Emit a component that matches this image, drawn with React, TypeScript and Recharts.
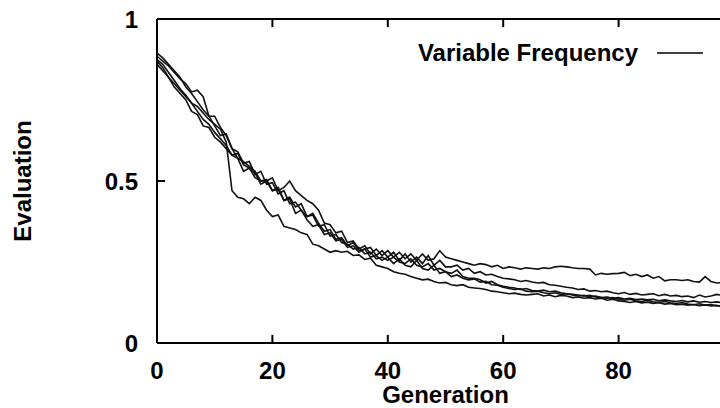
import { LineChart, Line, XAxis, YAxis, Legend, Label, ReferenceLine } from 'recharts'

// generation index 0..100
const generations = Array.from({ length: 101 }, (_, i) => i)

// five runs of the variable frequency GA
const run1 = [
  0.885, 0.87, 0.855, 0.835, 0.815, 0.8, 0.775, 0.78, 0.76, 0.7, 0.7, 0.665, 0.64, 0.6, 0.59, 0.555, 0.56, 0.52, 0.53, 0.49,
  0.495, 0.46, 0.47, 0.43, 0.435, 0.41, 0.39, 0.395, 0.36, 0.365, 0.33, 0.335, 0.31, 0.305, 0.29, 0.295, 0.275, 0.28, 0.26, 0.265,
  0.255, 0.265, 0.25, 0.245, 0.26, 0.24, 0.235, 0.245, 0.225, 0.23, 0.22, 0.215, 0.225, 0.205, 0.2, 0.2, 0.195, 0.185, 0.19, 0.18,
  0.175, 0.172, 0.17, 0.165, 0.168, 0.162, 0.16, 0.163, 0.158, 0.16, 0.155, 0.152, 0.15, 0.148, 0.145, 0.147, 0.142, 0.14, 0.138, 0.14,
  0.135, 0.132, 0.135, 0.13, 0.128, 0.132, 0.127, 0.125, 0.128, 0.124, 0.122, 0.125, 0.12, 0.118, 0.121, 0.117, 0.119, 0.115, 0.114, 0.116,
  0.113,
]
const run2 = [
  0.87, 0.85, 0.82, 0.8, 0.78, 0.76, 0.74, 0.73, 0.71, 0.69, 0.675, 0.66, 0.62, 0.47, 0.45, 0.445, 0.43, 0.45, 0.44, 0.41,
  0.39, 0.395, 0.36, 0.355, 0.35, 0.34, 0.335, 0.305, 0.3, 0.29, 0.28, 0.285, 0.28, 0.283, 0.27, 0.272, 0.258, 0.262, 0.24, 0.235,
  0.23, 0.22, 0.215, 0.212, 0.205, 0.2, 0.195, 0.197, 0.19, 0.185, 0.187, 0.18, 0.177, 0.18, 0.172, 0.17, 0.168, 0.165, 0.16, 0.158,
  0.155, 0.152, 0.154, 0.15, 0.148, 0.15, 0.152, 0.145, 0.148, 0.143, 0.147, 0.145, 0.14, 0.142, 0.138, 0.14, 0.136, 0.138, 0.132, 0.135,
  0.13, 0.128, 0.125, 0.128, 0.124, 0.126, 0.122, 0.124, 0.12, 0.122, 0.118, 0.12, 0.117, 0.119, 0.115, 0.118, 0.114, 0.116, 0.113, 0.115,
  0.112,
]
const run3 = [
  0.895, 0.88, 0.86, 0.84, 0.82, 0.79, 0.77, 0.745, 0.72, 0.7, 0.67, 0.64, 0.645, 0.6, 0.57, 0.53, 0.54, 0.51, 0.5, 0.5,
  0.51, 0.47, 0.48, 0.5, 0.47, 0.455, 0.44, 0.43, 0.41, 0.37, 0.365, 0.34, 0.345, 0.31, 0.315, 0.29, 0.3, 0.275, 0.29, 0.27,
  0.285, 0.265, 0.28, 0.26, 0.275, 0.255, 0.275, 0.255, 0.26, 0.285, 0.265, 0.26, 0.255, 0.25, 0.245, 0.24, 0.245, 0.242, 0.235, 0.24,
  0.23, 0.235, 0.232, 0.228, 0.232, 0.23, 0.228, 0.232, 0.23, 0.235, 0.237, 0.235, 0.232, 0.23, 0.23, 0.228, 0.21, 0.215, 0.212, 0.214,
  0.215, 0.218, 0.208, 0.212, 0.205, 0.21, 0.2, 0.205, 0.192, 0.195, 0.195, 0.193, 0.195, 0.19, 0.188, 0.205, 0.19, 0.185, 0.187, 0.19,
  0.188,
]
const run4 = [
  0.86, 0.84, 0.82, 0.79, 0.77, 0.75, 0.715, 0.705, 0.67, 0.665, 0.635, 0.62, 0.6, 0.58, 0.585, 0.55, 0.54, 0.525, 0.49, 0.5,
  0.47, 0.475, 0.44, 0.45, 0.42, 0.43, 0.39, 0.4, 0.37, 0.345, 0.35, 0.32, 0.325, 0.3, 0.31, 0.285, 0.29, 0.295, 0.27, 0.285,
  0.265, 0.28, 0.255, 0.275, 0.25, 0.265, 0.245, 0.27, 0.24, 0.255, 0.235, 0.235, 0.24, 0.225, 0.23, 0.215, 0.22, 0.21, 0.212, 0.205,
  0.2, 0.198, 0.195, 0.19, 0.193, 0.188, 0.185, 0.187, 0.18, 0.178, 0.175, 0.172, 0.17, 0.165, 0.167, 0.16, 0.162, 0.158, 0.16, 0.155,
  0.152, 0.156, 0.15, 0.153, 0.148, 0.15, 0.152, 0.146, 0.15, 0.145, 0.147, 0.143, 0.145, 0.14, 0.148, 0.142, 0.145, 0.15, 0.147, 0.152,
  0.15,
]
const run5 = [
  0.875, 0.86, 0.835, 0.81, 0.785, 0.765, 0.74, 0.715, 0.69, 0.675, 0.65, 0.63, 0.61, 0.58, 0.57, 0.56, 0.545, 0.53, 0.5, 0.505,
  0.47, 0.48, 0.44, 0.445, 0.4, 0.41, 0.38, 0.36, 0.365, 0.335, 0.34, 0.315, 0.32, 0.295, 0.3, 0.28, 0.29, 0.265, 0.27, 0.255,
  0.265, 0.245, 0.26, 0.24, 0.235, 0.255, 0.23, 0.225, 0.24, 0.215, 0.22, 0.205, 0.21, 0.2, 0.195, 0.198, 0.188, 0.19, 0.18, 0.178,
  0.172, 0.168, 0.165, 0.167, 0.16, 0.158, 0.16, 0.155, 0.152, 0.155, 0.15, 0.152, 0.148, 0.145, 0.147, 0.143, 0.145, 0.14, 0.142, 0.138,
  0.14, 0.136, 0.138, 0.134, 0.136, 0.133, 0.135, 0.13, 0.133, 0.13, 0.128, 0.131, 0.127, 0.13, 0.126, 0.128, 0.125, 0.127, 0.124, 0.126,
  0.123,
]

const xTicks = [0, 20, 40, 60, 80]
const innerXTicks = [20, 40, 60, 80, 100]
const yTicks = [0, 0.5, 1]
const innerYTicks = [0.5]
const runKeys = ['run1', 'run2', 'run3', 'run4', 'run5']
const legendLabel = 'Variable Frequency'

const font = 'Liberation Sans, Arial, Helvetica, sans-serif'
// inward tick length, in axis units (about 8px each way)
const TICK_DY = 0.025
const TICK_DX = 1.4

const textStyle = { fill: '#000', fontSize: 24, fontWeight: 700, fontFamily: font }

export default function App() {
  const data = generations.map((g, i) => ({
    gen: g,
    run1: run1[i],
    run2: run2[i],
    run3: run3[i],
    run4: run4[i],
    run5: run5[i],
  }))

  const axisLine = { stroke: '#000', strokeWidth: 2 }

  return (
    <div style={{ position: 'absolute', left: 0, top: 0, width: 720, height: 408, overflow: 'hidden', background: '#fff' }}>
      <LineChart width={760} height={408} data={data} margin={{ top: 18, right: 26, bottom: 0, left: 0 }}>
        <XAxis
          dataKey="gen"
          type="number"
          domain={[0, 100]}
          ticks={xTicks}
          height={65}
          tickSize={0}
          tickMargin={19}
          axisLine={axisLine}
          tickLine={false}
          tick={textStyle}
          interval={0}
        >
          <Label value="Generation" position="insideBottom" offset={5} style={textStyle} />
        </XAxis>
        <XAxis
          xAxisId="top"
          orientation="top"
          dataKey="gen"
          type="number"
          domain={[0, 100]}
          height={1}
          axisLine={axisLine}
          tickLine={false}
          tick={false}
        />
        <YAxis
          type="number"
          domain={[0, 1]}
          ticks={yTicks}
          width={157}
          tickSize={0}
          tickMargin={19}
          axisLine={axisLine}
          tickLine={false}
          tick={textStyle}
          interval={0}
        >
          <Label
            value="Evaluation"
            angle={-90}
            position="insideLeft"
            offset={22}
            style={{ ...textStyle, textAnchor: 'middle' }}
          />
        </YAxis>
        {innerXTicks.map((t) => (
          <ReferenceLine
            key={`bt${t}`}
            segment={[{ x: t, y: 0 }, { x: t, y: TICK_DY }]}
            stroke="#000"
            strokeWidth={2}
            ifOverflow="visible"
          />
        ))}
        {innerXTicks.map((t) => (
          <ReferenceLine
            key={`tt${t}`}
            segment={[{ x: t, y: 1 }, { x: t, y: 1 - TICK_DY }]}
            stroke="#000"
            strokeWidth={2}
            ifOverflow="visible"
          />
        ))}
        {innerYTicks.map((t) => (
          <ReferenceLine
            key={`lt${t}`}
            segment={[{ x: 0, y: t }, { x: TICK_DX, y: t }]}
            stroke="#000"
            strokeWidth={2}
            ifOverflow="visible"
          />
        ))}
        <Legend
          layout="horizontal"
          verticalAlign="middle"
          wrapperStyle={{ left: 0, top: 39, width: 703 }}
          content={() => (
            <div style={{ display: 'flex', justifyContent: 'flex-end', alignItems: 'center', height: 28 }}>
              <span style={{ fontFamily: font, fontSize: 24, fontWeight: 700, color: '#000', lineHeight: '28px' }}>
                {legendLabel}
              </span>
              <svg width={46} height={4} style={{ marginLeft: 19 }}>
                <line x1={0} y1={2} x2={46} y2={2} stroke="#000" strokeWidth={1.6} />
              </svg>
            </div>
          )}
        />
        {runKeys.map((k) => (
          <Line
            key={k}
            type="linear"
            dataKey={k}
            stroke="#111"
            strokeWidth={1.6}
            dot={false}
            isAnimationActive={false}
            legendType="none"
          />
        ))}
      </LineChart>
    </div>
  )
}
